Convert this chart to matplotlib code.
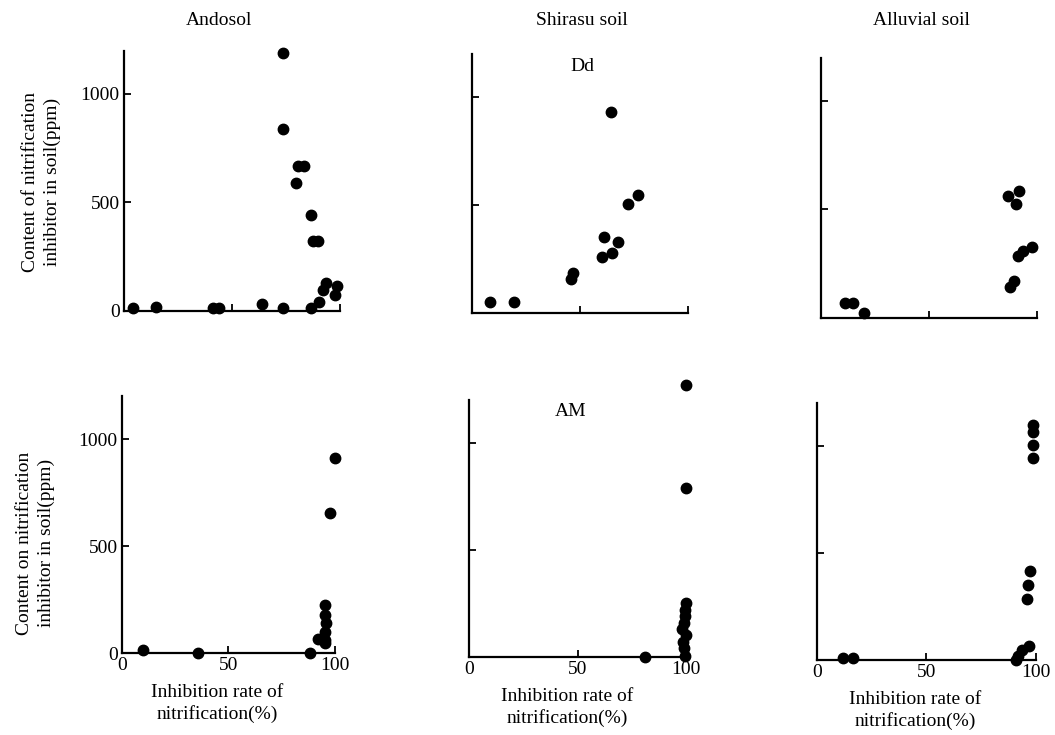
import matplotlib
matplotlib.use('Agg')
import matplotlib.pyplot as plt

plt.rcParams['font.family'] = ['Liberation Serif', 'DejaVu Serif']

soils = ['Andosol', 'Shirasu soil', 'Alluvial soil']
inhibitors = ['Dd', 'AM']

# Dd (upper row): inhibition rate (%) and content (ppm)
dd_andosol_x = [4, 15, 41, 44, 64, 73.5, 73.5, 73.7, 79.5, 80.4, 83.5, 86.6, 87.4, 89.7, 86.4, 90.4, 92, 93.5, 98.5, 97.7]
dd_andosol_y = [15, 20, 15, 12, 32, 15, 1187, 839, 588, 670, 670, 442, 324, 324, 15, 43, 97, 130, 117, 74]
dd_shirasu_x = [8.2, 19.3, 45.5, 46.4, 64.4, 60.2, 60.8, 64.7, 67.5, 72.2, 76.5]
dd_shirasu_y = [52, 55, 158, 189, 931, 260, 353, 281, 330, 507, 549]
dd_alluvial_x = [11.2, 14.7, 20.1, 86.3, 91.6, 90.1, 90.9, 93.2, 97.3, 89.3, 87.3]
dd_alluvial_y = [69, 69, 23, 561, 584, 524, 284, 309, 324, 170, 140]

# AM (lower row)
am_andosol_x = [10, 36, 88.4, 100, 97.8, 95.4, 95.6, 95.8, 95.6, 95.4, 92.3, 95.4]
am_andosol_y = [15, 3, 0, 911, 654, 225, 178, 140, 100, 62, 65, 47]
am_shirasu_x = [81, 100, 100, 100, 99.5, 99.5, 99, 98, 100, 98.5, 99, 99.5]
am_shirasu_y = [0, 1270, 787, 250, 220, 190, 160, 130, 100, 70, 40, 5]
am_alluvial_x = [12.2, 16.5, 98.5, 98.5, 98.5, 98.5, 97.1, 96.2, 95.8, 96.9, 93.5, 91.8, 91]
am_alluvial_y = [8, 8, 1098, 1067, 1005, 942, 417, 350, 284, 65, 47, 19, 0]

data = [
    [(dd_andosol_x, dd_andosol_y), (dd_shirasu_x, dd_shirasu_y), (dd_alluvial_x, dd_alluvial_y)],
    [(am_andosol_x, am_andosol_y), (am_shirasu_x, am_shirasu_y), (am_alluvial_x, am_alluvial_y)],
]

# axes rectangles in figure fractions
rects = [
    [[0.1175, 0.5769, 0.2047, 0.3543], [0.4477, 0.5735, 0.2047, 0.3527], [0.7779, 0.5679, 0.2055, 0.3537]],
    [[0.1154, 0.1112, 0.2019, 0.3494], [0.4448, 0.1065, 0.2054, 0.3492], [0.7741, 0.1020, 0.2079, 0.3493]],
]

fs = 14

fig = plt.figure(figsize=(10.55, 7.35), dpi=100)

for r in range(2):
    for c in range(3):
        ax = fig.add_axes(rects[r][c])
        x, y = data[r][c]
        ax.plot(x, y, 'o', color='black', ms=7.5, clip_on=False)
        ax.set_xlim(0, 100)
        ax.set_ylim(0, 1200)
        for s in ['top', 'right']:
            ax.spines[s].set_visible(False)
        for s in ['left', 'bottom']:
            ax.spines[s].set_linewidth(1.6)
        ax.set_xticks([0, 50, 100])
        ax.set_yticks([0, 500, 1000])
        ax.tick_params(direction='in', length=5, width=1.3, labelsize=fs, pad=3)
        if c != 0:
            ax.set_yticklabels([])
        if r == 0:
            ax.set_xticklabels([])
        else:
            ax.set_xlabel('Inhibition rate of\nnitrification(%)', fontsize=fs, x=0.45,
                          linespacing=1.3, labelpad=7)

fig.text(0.039, 0.752, 'Content of nitrification\ninhibitor in soil(ppm)', rotation=90,
         ha='center', va='center', fontsize=fs, linespacing=1.35)
fig.text(0.034, 0.261, 'Content on nitrification\ninhibitor in soil(ppm)', rotation=90,
         ha='center', va='center', fontsize=fs, linespacing=1.35)

title_x = [0.2076, 0.5517, 0.8735]
for name, tx in zip(soils, title_x):
    fig.text(tx, 0.972, name, ha='center', va='center', fontsize=fs)

fig.text(0.5517, 0.909, inhibitors[0], ha='center', va='center', fontsize=fs)
fig.text(0.5412, 0.4395, inhibitors[1], ha='center', va='center', fontsize=fs)

fig.savefig('out.png', dpi=100)
